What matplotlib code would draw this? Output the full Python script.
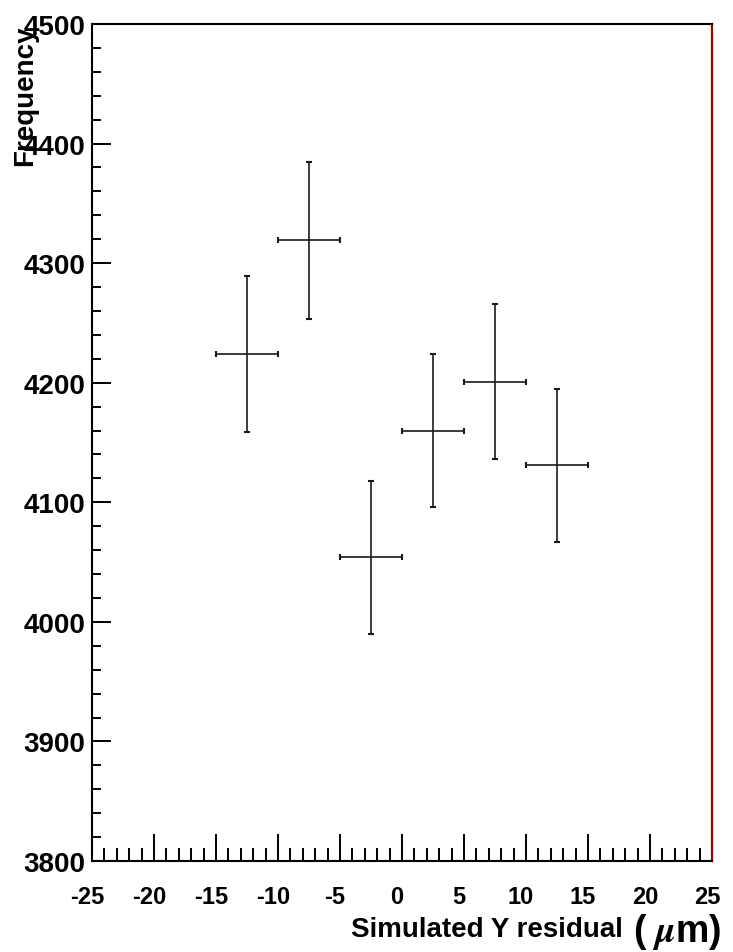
import numpy as np
import matplotlib.pyplot as plt
from matplotlib.ticker import MultipleLocator
import matplotlib.transforms as mtransforms

plt.rcParams['font.family'] = ['Liberation Sans', 'DejaVu Sans']
plt.rcParams['font.weight'] = 'bold'
plt.rcParams['axes.unicode_minus'] = False

# bin centres, counts and errors
x = [-12.5, -7.5, -2.5, 2.5, 7.5, 12.5]
y = [4224, 4319, 4054, 4160, 4201, 4131]
yerr = [65, 66, 64, 64, 65, 64]
xerr = [2.5, 2.5, 2.5, 2.5, 2.5, 2.5]

fig = plt.figure(figsize=(7.33, 9.53), dpi=100)
ax = fig.add_axes([92/733, 91/953, 620/733, 837/953])

ax.errorbar(x, y, xerr=xerr, yerr=yerr, fmt='none', ecolor='#1a1a1a',
            elinewidth=1.2, capsize=2.5, capthick=1.5)

ax.set_xlim(-25, 25)
ax.set_ylim(3800, 4500)
ax.xaxis.set_major_locator(MultipleLocator(5))
ax.xaxis.set_minor_locator(MultipleLocator(1))
ax.yaxis.set_major_locator(MultipleLocator(100))
ax.yaxis.set_minor_locator(MultipleLocator(20))

ax.tick_params(axis='both', which='both', direction='in', width=1.4,
               top=False, right=False)
ax.tick_params(axis='x', which='major', length=19.5, labelsize=17, pad=17)
ax.tick_params(axis='x', which='minor', length=9.5)
ax.tick_params(axis='y', which='major', length=13.7, labelsize=20, pad=5)
ax.tick_params(axis='y', which='minor', length=6.5)

# shift x tick labels a bit to the left, like the original
off = mtransforms.ScaledTranslation(-5/100, 0, fig.dpi_scale_trans)
for lab in ax.get_xticklabels():
    lab.set_transform(lab.get_transform() + off)

for s in ['left', 'bottom', 'top']:
    ax.spines[s].set_linewidth(1.5)
    ax.spines[s].set_color('black')
ax.spines['right'].set_color('#a00000')
ax.spines['right'].set_linewidth(1.6)

ax.set_ylabel('Frequency', fontsize=20, fontweight='bold', loc='top')
ax.yaxis.set_label_coords(-0.087, 1.0)

ax.text((623 - 92)/620, -0.0896, 'Simulated Y residual', transform=ax.transAxes,
        ha='right', va='baseline', fontsize=20, fontweight='bold')
ax.text(0.873, -0.0956, '( $\\mu$m)', transform=ax.transAxes,
        ha='left', va='baseline', fontsize=27, fontweight='bold',
        math_fontfamily='stix')

fig.savefig('out.png', dpi=100)
